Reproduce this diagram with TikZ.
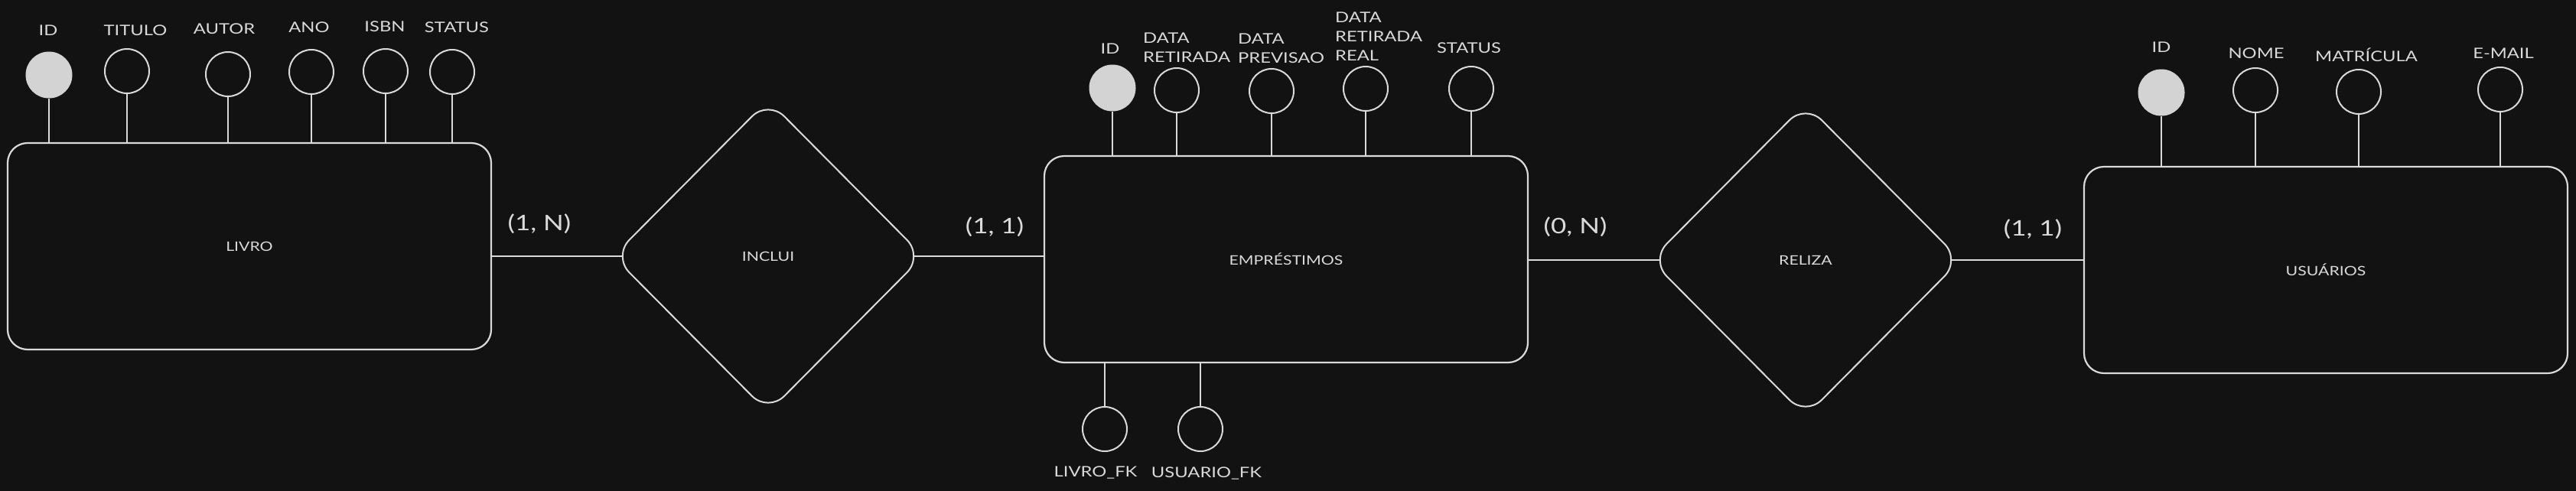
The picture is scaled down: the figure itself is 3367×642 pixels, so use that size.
\documentclass[tikz,border=0pt]{standalone}
\usepackage{fontspec}
\setmainfont{Lato}[FakeStretch=1.25]
\usetikzlibrary{shapes.geometric}
\definecolor{bgc}{HTML}{121212}
\definecolor{fg}{HTML}{DADADA}
\definecolor{pk}{HTML}{D3D3D3}
\pgfdeclarelayer{back}
\pgfdeclarelayer{edges}
\pgfsetlayers{back,edges,main}
\begin{document}
\begin{tikzpicture}[x=1pt,y=-1pt,
  every node/.style={text=fg},
  entity/.style={draw=fg, fill=bgc, line width=2.2pt, rounded corners=26pt, minimum width=632pt, minimum height=270pt, inner sep=0pt, font=\fontsize{17}{20}\selectfont},
  relbox/.style={diamond, draw=fg, fill=bgc, line width=2pt, rounded corners=30pt, minimum width=406pt, minimum height=409pt, inner sep=0pt, font=\fontsize{17}{20}\selectfont},
  attr/.style={circle, draw=fg, fill=bgc, line width=2pt, minimum size=58pt, inner sep=0pt},
  keyattr/.style={circle, draw=pk, fill=pk, line width=1pt, minimum size=60pt, inner sep=0pt},
  lbl/.style={font=\fontsize{19}{25}\selectfont, inner sep=0pt},
  mlbl/.style={lbl, align=left, anchor=west},
  card/.style={font=\fontsize{28}{30}\selectfont, inner sep=0pt},
  link/.style={draw=fg, line width=2pt},
  rlink/.style={draw=fg, line width=2.6pt}
]
\useasboundingbox (0,0) rectangle (3367,642);
\begin{pgfonlayer}{back}
\fill[bgc] (0,0) rectangle (3367,642);
\end{pgfonlayer}

% entities
\node[entity] (livro) at (326,322) {LIVRO};
\node[entity] (emp) at (1681,339) {EMPRÉSTIMOS};
\node[entity] (usu) at (3040,353) {USUÁRIOS};

% relationships
\node[relbox] (inclui) at (1004,335) {INCLUI};
\node[relbox] (reliza) at (2360,340) {RELIZA};

% LIVRO attributes
\node[keyattr] (l1) at (64,98) {};
\node[attr] (l2) at (166,93) {};
\node[attr] (l3) at (298,97) {};
\node[attr] (l4) at (407,94) {};
\node[attr] (l5) at (504,93) {};
\node[attr] (l6) at (591,94) {};
\node[lbl] (tl1) at (63,40) {ID};
\node[lbl] (tl2) at (177,40) {TITULO};
\node[lbl] (tl3) at (293,38) {AUTOR};
\node[lbl] (tl4) at (404,36) {ANO};
\node[lbl] (tl5) at (503,35) {ISBN};
\node[lbl] (tl6) at (597,36) {STATUS};
\foreach \a in {l1,l2,l3,l4,l5,l6}
  \draw[link] (\a.south) -- (\a.south |- livro.north);

% EMPRESTIMOS attributes
\node[keyattr] (e1) at (1454,115) {};
\node[attr] (e2) at (1538,118) {};
\node[attr] (e3) at (1662,119) {};
\node[attr] (e4) at (1785,116) {};
\node[attr] (e5) at (1923,116) {};
\node[lbl] (te1) at (1451,64) {ID};
\node[mlbl] (te2) at (1494,62) {DATA\\RETIRADA};
\node[mlbl] (te3) at (1618,63) {DATA\\PREVISAO};
\node[mlbl] (te4) at (1745,48) {DATA\\RETIRADA\\REAL};
\node[lbl] (te5) at (1920,63) {STATUS};
\foreach \a in {e1,e2,e3,e4,e5}
  \draw[link] (\a.south) -- (\a.south |- emp.north);

\node[attr] (f1) at (1444,561) {};
\node[attr] (f2) at (1569,561) {};
\node[lbl] (tf1) at (1432,618) {LIVRO\_FK};
\node[lbl] (tf2) at (1577,619) {USUARIO\_FK};
\foreach \a in {f1,f2}
  \draw[link] (\a.north) -- (\a.north |- emp.south);

% USUARIOS attributes
\node[keyattr] (u1) at (2825,121) {};
\node[attr] (u2) at (2948,118) {};
\node[attr] (u3) at (3083,120) {};
\node[attr] (u4) at (3268,117) {};
\node[lbl] (tu1) at (2825,62) {ID};
\node[lbl] (tu2) at (2949,70) {NOME};
\node[lbl] (tu3) at (3093,72) {MATRÍCULA};
\node[lbl] (tu4) at (3272,70) {E-MAIL};
\foreach \a in {u1,u2,u3,u4}
  \draw[link] (\a.south) -- (\a.south |- usu.north);

% cardinalities
\node[card] (c1) at (705,293) {(1, N)};
\node[card] (c2) at (1300,297) {(1, 1)};
\node[card] (c3) at (2059,297) {(0, N)};
\node[card] (c4) at (2657,300) {(1, 1)};

% connectors
\begin{pgfonlayer}{edges}
\draw[rlink] (livro.east |- inclui.center) -- (inclui.center);
\draw[rlink] (inclui.center) -- (inclui.center -| emp.west);
\draw[rlink] (emp.east |- reliza.center) -- (reliza.center);
\draw[rlink] (reliza.center) -- (reliza.center -| usu.west);
\end{pgfonlayer}
\end{tikzpicture}
\end{document}
